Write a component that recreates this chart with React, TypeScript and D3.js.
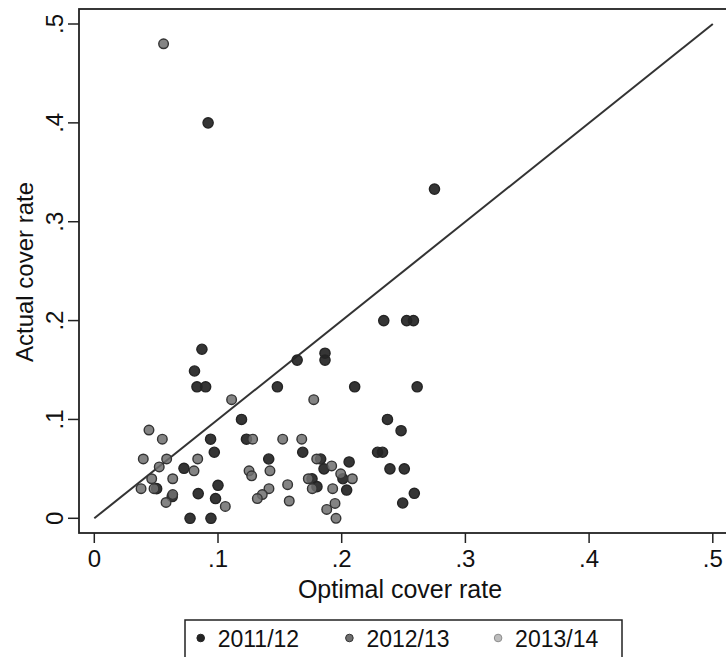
import React from 'react';
import { scaleLinear } from 'd3';

// optimal vs actual cover rate, per season
const series = ['2011/12', '2012/13', '2013/14'];

const optimal1112 = [
  0.275, 0.092, 0.087, 0.081, 0.083, 0.09, 0.164, 0.1865, 0.1865, 0.148,
  0.2105, 0.261, 0.234, 0.2525, 0.258, 0.119, 0.237, 0.248, 0.094, 0.123,
  0.097, 0.1685, 0.229, 0.233, 0.0725, 0.141, 0.206, 0.183, 0.1857, 0.239,
  0.2506, 0.1, 0.176, 0.201, 0.18, 0.204, 0.084, 0.098, 0.2587, 0.2493,
  0.0774, 0.0943, 0.0504, 0.063,
];
const actual1112 = [
  0.333, 0.4, 0.171, 0.149, 0.133, 0.133, 0.16, 0.167, 0.16, 0.133,
  0.133, 0.133, 0.2, 0.2, 0.2, 0.1, 0.1, 0.0886, 0.08, 0.08,
  0.0668, 0.0668, 0.0668, 0.0668, 0.0506, 0.06, 0.057, 0.06, 0.05, 0.05,
  0.05, 0.0334, 0.04, 0.04, 0.032, 0.0286, 0.025, 0.02, 0.0253, 0.0155,
  0, 0, 0.03, 0.022,
];

const optimal1213 = [
  0.056, 0.111, 0.1774, 0.0442, 0.055, 0.128, 0.1523, 0.1677, 0.0396, 0.0585,
  0.0836, 0.1798, 0.0525, 0.0806, 0.1251, 0.1272, 0.142, 0.1919, 0.1992, 0.2086,
  0.173, 0.0464, 0.0634, 0.0378, 0.0483, 0.1412, 0.1762, 0.1927, 0.1563, 0.0634,
  0.058, 0.1059, 0.1358, 0.1318, 0.1576, 0.1946, 0.1879, 0.1954,
];
const actual1213 = [
  0.48, 0.12, 0.12, 0.0893, 0.08, 0.08, 0.08, 0.08, 0.06, 0.06,
  0.06, 0.06, 0.052, 0.048, 0.048, 0.043, 0.048, 0.053, 0.045, 0.04,
  0.04, 0.04, 0.04, 0.03, 0.03, 0.03, 0.03, 0.03, 0.034, 0.024,
  0.016, 0.012, 0.024, 0.02, 0.0175, 0.015, 0.009, 0,
];

const optimal1314: number[] = [];
const actual1314: number[] = [];

const xTicks = [0, 0.1, 0.2, 0.3, 0.4, 0.5];
const yTicks = [0, 0.1, 0.2, 0.3, 0.4, 0.5];
const tickLabels = ['0', '.1', '.2', '.3', '.4', '.5'];

const W = 726;
const H = 657;
const frame = { left: 79, top: 9, bottom: 533, right: 740 };
const font = 'Liberation Sans, Arial, Helvetica, sans-serif';

const x = scaleLinear().domain([0, 0.5]).range([94.3, 712.8]);
const y = scaleLinear().domain([0, 0.5]).range([518.3, 24]);

const styles = [
  { fill: '#242424', stroke: '#242424', opacity: 0.92, r: 5.1 },
  { fill: '#6f6f6f', stroke: '#333333', opacity: 0.85, r: 4.8 },
  { fill: '#bdbdbd', stroke: '#8c8c8c', opacity: 0.85, r: 4.8 },
];

const data = [
  optimal1112.map((v, i) => [v, actual1112[i]]),
  optimal1213.map((v, i) => [v, actual1213[i]]),
  optimal1314.map((v, i) => [v, actual1314[i]]),
];

export default function App() {
  return (
    <svg
      width={W}
      height={H}
      style={{ position: 'absolute', left: 0, top: 0, background: '#fff' }}
      fontFamily={font}>
      <rect x={0} y={0} width={W} height={H} fill='#fff' />
      {/* 45 degree line */}
      <line
        x1={x(0)}
        y1={y(0)}
        x2={x(0.5)}
        y2={y(0.5)}
        stroke='#333'
        strokeWidth={2}
      />
      {data.map((pts, s) =>
        pts.map((d, i) => (
          <circle
            key={s + '-' + i}
            cx={x(d[0])}
            cy={y(d[1])}
            r={styles[s].r}
            fill={styles[s].fill}
            fillOpacity={styles[s].opacity}
            stroke={styles[s].stroke}
            strokeWidth={1.4}
          />
        ))
      )}
      {/* plot frame */}
      <rect
        x={frame.left}
        y={frame.top}
        width={frame.right - frame.left}
        height={frame.bottom - frame.top}
        fill='none'
        stroke='#222'
        strokeWidth={1.8}
      />
      {xTicks.map((t, i) => (
        <g key={'x' + i} transform={`translate(${x(t)},0)`}>
          <line y1={frame.bottom} y2={frame.bottom + 10} stroke='#222' strokeWidth={1.5} />
          <text y={567} textAnchor='middle' fontSize={24} fill='#111'>
            {tickLabels[i]}
          </text>
        </g>
      ))}
      {yTicks.map((t, i) => (
        <g key={'y' + i} transform={`translate(0,${y(t)})`}>
          <line x1={frame.left - 11} x2={frame.left} stroke='#222' strokeWidth={1.5} />
          <text
            transform='translate(63,0) rotate(-90)'
            textAnchor='middle'
            fontSize={24}
            fill='#111'>
            {tickLabels[i]}
          </text>
        </g>
      ))}
      <text x={400} y={598} textAnchor='middle' fontSize={25} fill='#111'>
        Optimal cover rate
      </text>
      <text
        transform='translate(33,272) rotate(-90)'
        textAnchor='middle'
        fontSize={24}
        fill='#111'>
        Actual cover rate
      </text>
      {/* legend */}
      <rect x={185} y={620} width={437} height={50} fill='#fff' stroke='#222' strokeWidth={1.5} />
      {series.map((name, i) => (
        <g key={name} transform={`translate(${200.7 + i * 148.7},638)`}>
          <circle
            r={3.8}
            fill={styles[i].fill}
            stroke={styles[i].stroke}
            strokeWidth={1}
          />
          <text x={17} y={8.5} fontSize={23} fill='#111'>
            {name}
          </text>
        </g>
      ))}
    </svg>
  );
}
